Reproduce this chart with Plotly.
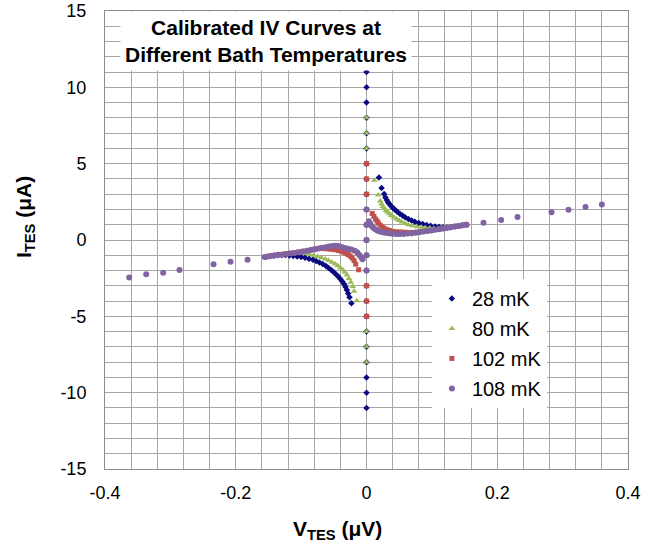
import plotly.graph_objects as go

# ---------------- data (V in uV, I in uA) ----------------
series_names = ["28 mK", "80 mK", "102 mK", "108 mK"]

# superconducting branch (V ~ 0)
sc_I_28 = [-11, -10, -9, -8, -7, -6, -5, -4, -3, -2, -1, 0, 1, 2, 3, 4, 5, 6, 7, 8, 9, 10, 11]
sc_I_80 = [-8, -7, -6, -5, -4, -3, -2, -1, 0, 1, 2, 3, 4, 5, 6, 7, 8]
sc_I_102 = [-5, -4, -3, -2, -1, 0, 1, 2, 3, 4, 5]
sc_I_108 = [-2, -1, 0, 1, 2]

# 28 mK transition + normal (positive side)
v28_pos = [0.019, 0.023, 0.027, 0.029, 0.031, 0.033, 0.035, 0.038, 0.041, 0.044, 0.047, 0.051, 0.055,
           0.059, 0.064, 0.069, 0.074, 0.080, 0.086, 0.092, 0.098, 0.105, 0.111, 0.117, 0.123, 0.129,
           0.135, 0.141, 0.147, 0.153]
i28_pos = [4.10, 3.40, 3.02, 2.78, 2.62, 2.47, 2.36, 2.21, 2.08, 1.96, 1.85, 1.72, 1.60,
           1.49, 1.38, 1.28, 1.19, 1.11, 1.04, 0.98, 0.93, 0.89, 0.85, 0.83, 0.82, 0.84,
           0.88, 0.92, 0.96, 1.00]
# 28 mK negative side
v28_neg = [-0.153, -0.147, -0.141, -0.136, -0.130, -0.124, -0.118, -0.112, -0.106, -0.100, -0.094,
           -0.088, -0.082, -0.077, -0.072, -0.067, -0.062, -0.058, -0.054, -0.050, -0.046, -0.043,
           -0.040, -0.037, -0.034, -0.032, -0.030, -0.028, -0.026, -0.023]
i28_neg = [-1.09, -1.05, -1.02, -0.99, -0.98, -0.99, -1.01, -1.04, -1.08, -1.12, -1.17,
           -1.23, -1.30, -1.38, -1.47, -1.58, -1.71, -1.84, -1.97, -2.11, -2.27, -2.41,
           -2.56, -2.72, -2.90, -3.08, -3.28, -3.50, -3.75, -4.14]

# 80 mK
v80_pos = [0.012, 0.018, 0.021, 0.023, 0.025, 0.027, 0.030, 0.032, 0.035, 0.038, 0.042, 0.046, 0.050,
           0.054, 0.059, 0.064, 0.070, 0.077, 0.084, 0.090, 0.097, 0.103, 0.110, 0.117, 0.123, 0.129,
           0.135, 0.141, 0.147, 0.153]
i80_pos = [3.92, 2.95, 2.55, 2.35, 2.20, 2.07, 1.93, 1.84, 1.72, 1.61, 1.49, 1.38, 1.28,
           1.18, 1.08, 1.00, 0.93, 0.87, 0.83, 0.80, 0.78, 0.76, 0.75, 0.77, 0.80, 0.84,
           0.88, 0.92, 0.96, 1.00]
v80_neg = [-0.153, -0.146, -0.139, -0.132, -0.125, -0.118, -0.111, -0.105, -0.099, -0.093, -0.087,
           -0.081, -0.075, -0.069, -0.063, -0.058, -0.053, -0.048, -0.044, -0.040, -0.036, -0.033,
           -0.030, -0.027, -0.024, -0.021, -0.019, -0.015]
i80_neg = [-1.09, -1.04, -1.00, -0.95, -0.91, -0.87, -0.84, -0.82, -0.85, -0.89, -0.95,
           -1.01, -1.08, -1.16, -1.25, -1.35, -1.45, -1.57, -1.69, -1.82, -1.96, -2.12,
           -2.30, -2.52, -2.76, -3.05, -3.35, -3.98]

# 102 mK
v102_pos = [0.0087, 0.0113, 0.0138, 0.016, 0.018, 0.021, 0.024, 0.027, 0.031, 0.035, 0.041, 0.046,
            0.051, 0.056, 0.062, 0.070, 0.078, 0.085, 0.092, 0.100, 0.107, 0.114, 0.121, 0.128,
            0.135, 0.141, 0.147, 0.153]
i102_pos = [1.74, 1.55, 1.37, 1.24, 1.11, 0.97, 0.85, 0.77, 0.68, 0.62, 0.56, 0.53,
            0.52, 0.51, 0.50, 0.50, 0.52, 0.55, 0.59, 0.64, 0.69, 0.73, 0.78, 0.83,
            0.88, 0.92, 0.96, 1.00]
v102_neg = [-0.153, -0.146, -0.139, -0.132, -0.125, -0.118, -0.111, -0.104, -0.097, -0.090, -0.084,
            -0.078, -0.072, -0.066, -0.060, -0.054, -0.048, -0.043, -0.038, -0.034, -0.031, -0.028,
            -0.025, -0.022, -0.019, -0.0165, -0.012]
i102_neg = [-1.09, -1.04, -1.00, -0.95, -0.91, -0.87, -0.84, -0.79, -0.74, -0.69, -0.64,
            -0.59, -0.55, -0.56, -0.58, -0.61, -0.64, -0.69, -0.75, -0.81, -0.87, -0.95,
            -1.05, -1.18, -1.35, -1.58, -1.95]

# 108 mK
v108_pos = [0.0036, 0.0055, 0.0075, 0.010, 0.0128, 0.016, 0.019, 0.023, 0.027, 0.031, 0.036, 0.041,
            0.046, 0.051, 0.057, 0.063, 0.069, 0.075, 0.081, 0.087, 0.093, 0.099, 0.105, 0.111,
            0.117, 0.123, 0.129, 0.135, 0.141, 0.147, 0.153,
            0.179, 0.206, 0.231, 0.283, 0.309, 0.335, 0.360]
i108_pos = [1.23, 1.08, 0.94, 0.82, 0.72, 0.64, 0.58, 0.53, 0.49, 0.46, 0.43, 0.41,
            0.39, 0.39, 0.40, 0.42, 0.45, 0.48, 0.51, 0.55, 0.59, 0.63, 0.67, 0.71,
            0.75, 0.79, 0.84, 0.88, 0.92, 0.96, 1.00,
            1.13, 1.31, 1.50, 1.81, 1.98, 2.16, 2.33]
v108_neg = [-0.363, -0.337, -0.311, -0.286, -0.234, -0.208, -0.182,
            -0.156, -0.149, -0.142, -0.136, -0.129, -0.122, -0.116, -0.110, -0.103, -0.097,
            -0.091, -0.085, -0.079, -0.073, -0.068, -0.063, -0.058, -0.053, -0.048, -0.043,
            -0.038, -0.033, -0.028, -0.023, -0.018, -0.014, -0.011, -0.008, -0.006]
i108_neg = [-2.46, -2.24, -2.14, -1.96, -1.59, -1.42, -1.29,
            -1.11, -1.07, -1.03, -1.00, -0.96, -0.92, -0.88, -0.85, -0.80, -0.75,
            -0.71, -0.66, -0.61, -0.56, -0.51, -0.47, -0.43, -0.40, -0.38, -0.40,
            -0.46, -0.52, -0.57, -0.63, -0.70, -0.82, -0.98, -1.15, -1.26]

colors = ["#0A0A80", "#9BBB59", "#C0504D", "#8064A2"]
symbols = ["diamond", "triangle-up", "square", "circle"]
sizes = [5, 6, 5, 6]

x_tick_vals = [-0.4, -0.2, 0, 0.2, 0.4]
x_tick_text = ["-0.4", "-0.2", "0", "0.2", "0.4"]
y_tick_vals = [-15, -10, -5, 0, 5, 10, 15]
y_tick_text = ["-15", "-10", "-5", "0", "5", "10", "15"]

sc_all = [sc_I_28, sc_I_80, sc_I_102, sc_I_108]
pos_all = [(v28_pos, i28_pos), (v80_pos, i80_pos), (v102_pos, i102_pos), (v108_pos, i108_pos)]
neg_all = [(v28_neg, i28_neg), (v80_neg, i80_neg), (v102_neg, i102_neg), (v108_neg, i108_neg)]

fig = go.Figure()
for k, name in enumerate(series_names):
    vn, inn = neg_all[k]
    vp, ip = pos_all[k]
    sc = sc_all[k]
    xs = list(vn) + [0.0] * len(sc) + list(vp)
    ys = list(inn) + list(sc) + list(ip)
    fig.add_trace(go.Scatter(
        x=xs, y=ys, mode="markers", name=name, legendgroup=name,
        marker=dict(color=colors[k], symbol=symbols[k], size=sizes[k], line=dict(width=0)),
    ))

font_family = "Liberation Sans, Arial, sans-serif"
grid_color = "#A6A6A6"

fig.update_layout(
    width=663, height=546,
    margin=dict(l=105, r=35, t=11, b=77),
    paper_bgcolor="white", plot_bgcolor="white",
    font=dict(family=font_family, size=18, color="black"),
    showlegend=True,
    legend=dict(
        x=0.625, y=0.415, xanchor="left", yanchor="top",
        bgcolor="white", borderwidth=0,
        font=dict(family=font_family, size=20, color="black"),
        tracegroupgap=1,
    ),
    xaxis=dict(
        range=[-0.4, 0.4], tickvals=x_tick_vals, ticktext=x_tick_text, automargin=False,
        showgrid=True, gridcolor=grid_color, gridwidth=1,
        minor=dict(dtick=0.04, showgrid=True, gridcolor=grid_color, gridwidth=1),
        zeroline=False, showline=True, linecolor="#8C8C8C", linewidth=1, mirror=True,
        ticks="", ticklabelstandoff=7, tickfont=dict(size=18),
    ),
    yaxis=dict(
        range=[-15, 15], tickvals=y_tick_vals, ticktext=y_tick_text, automargin=False,
        showgrid=True, gridcolor=grid_color, gridwidth=1,
        minor=dict(dtick=1, showgrid=True, gridcolor=grid_color, gridwidth=1),
        zeroline=False, showline=True, linecolor="#8C8C8C", linewidth=1, mirror=True,
        ticks="", ticklabelstandoff=14, tickfont=dict(size=18),
    ),
    annotations=[
        dict(text="<b>Calibrated IV Curves at<br>Different Bath Temperatures</b>",
             xref="paper", yref="paper", x=0.308, y=0.934, xanchor="center", yanchor="middle",
             showarrow=False, bgcolor="white", borderpad=4,
             font=dict(family=font_family, size=21, color="black")),
        dict(text="<b>V<sub>TES</sub> (μV)</b>", xref="paper", yref="paper",
             x=0.4455, y=-0.133, xanchor="center", yanchor="middle", showarrow=False,
             font=dict(family=font_family, size=21, color="black")),
        dict(text="<b>I<sub>TES</sub> (μA)</b>", xref="paper", yref="paper",
             x=-0.153, y=0.55, xanchor="center", yanchor="middle", showarrow=False, textangle=-90,
             font=dict(family=font_family, size=21, color="black")),
    ],
)

fig.write_html("out.html")
